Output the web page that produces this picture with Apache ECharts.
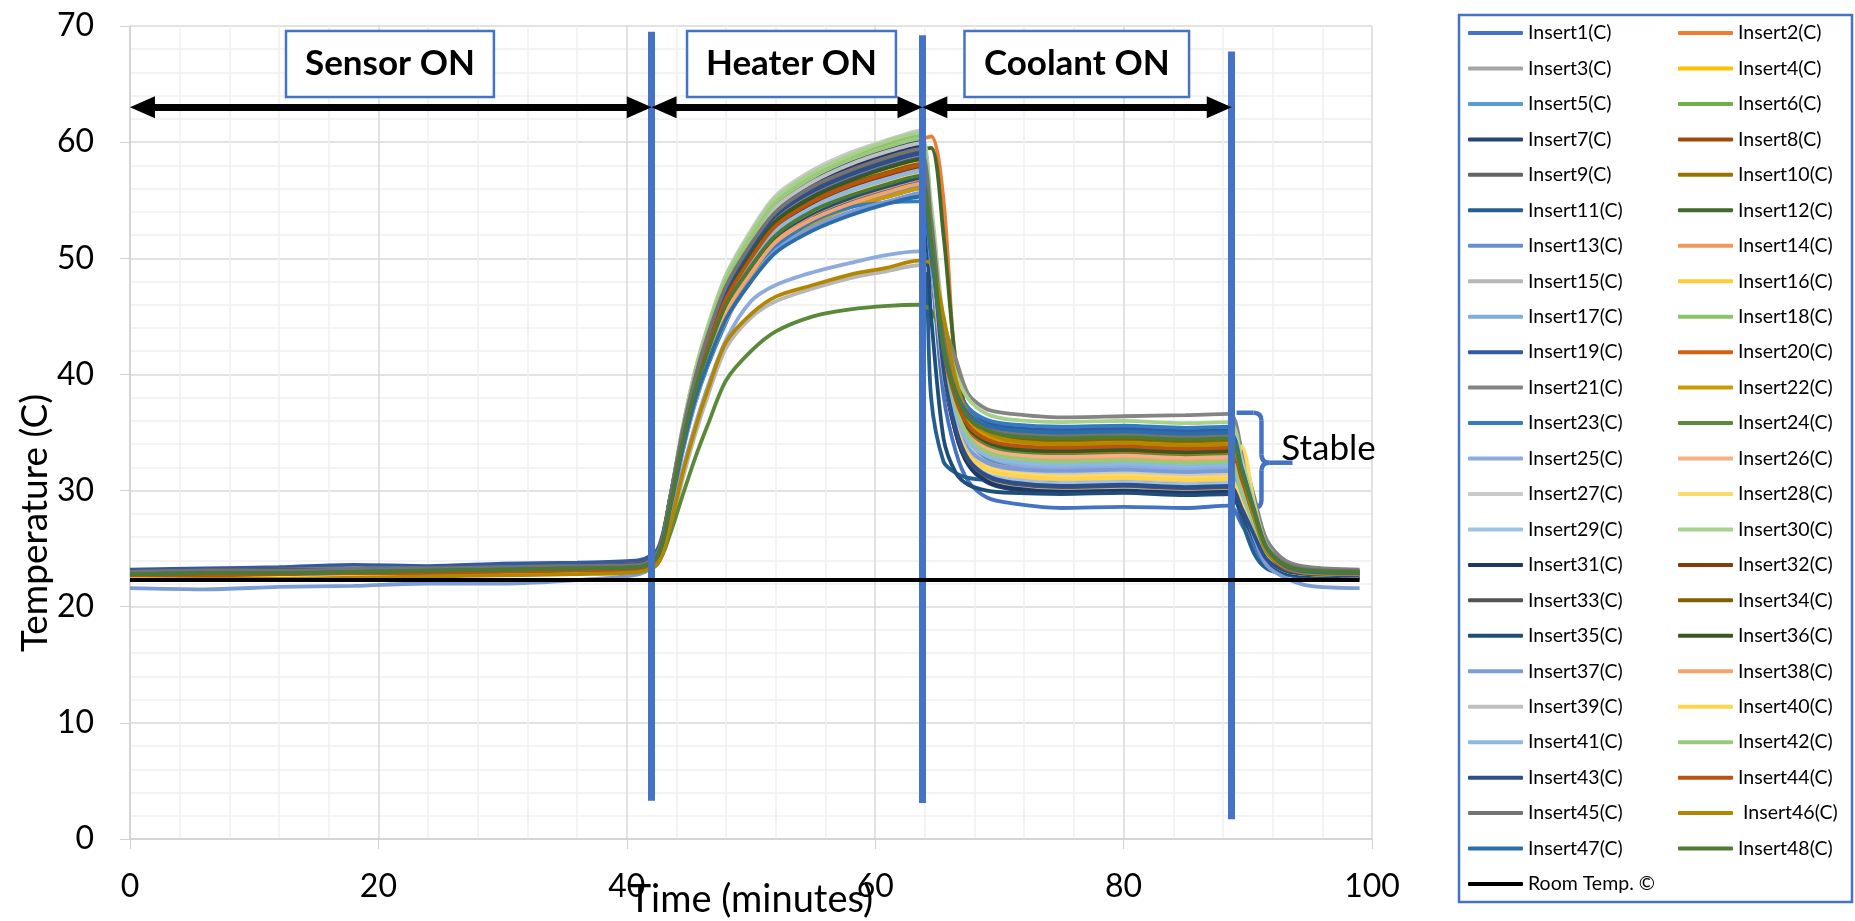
<!DOCTYPE html>
<html>
<head>
<meta charset="utf-8">
<title>Insert temperatures</title>
<script src="https://cdn.jsdelivr.net/npm/echarts@6/dist/echarts.min.js"></script>
<style>
  html, body { margin: 0; padding: 0; background: #fff; }
  #main { width: 1855px; height: 921px; }
</style>
</head>
<body>
<div id="main"></div>
<script>
// sample times (minutes)
var times = [0, 6, 12, 18, 24, 30, 36, 41, 42.5, 43.5, 44.5, 45.5, 46.5, 48, 50, 52, 55, 58, 61, 63.5,
  64.5, 65.5, 66.5, 67.5, 69, 71, 75, 80, 85, 88.5, 89.5, 90.5, 91.5, 93, 95, 99];

// temperatures, one array per insert
var insert1 = [22.8,22.9,22.8,23.0,23.0,23.1,23.2,23.3, 24.3,28.5,33.8,38.0,41.3,45.2,48.5,51.1,53.1,54.4,55.3,56.0, 49.2,38.2,33.3,30.8,29.4,28.9,28.5,28.6,28.5, 28.7,27.1,25.2,23.6,22.8,22.5,22.5];
var insert2 = [22.7,22.8,22.8,22.9,23.0,23.0,23.1,23.2, 24.3,29.2,35.1,39.9,43.7,48.1,51.8,54.8,57.1,58.5,59.6,60.2, 60.5,55.0,40.0,36.0,34.2,33.6,33.3,33.1,33.2, 33.2,30.6,27.5,24.7,23.3,22.9,22.8];
var insert3 = [22.9,22.9,23.0,23.1,23.1,23.2,23.3,23.4, 24.5,29.2,35.0,39.6,43.3,47.6,51.2,54.1,56.3,57.7,58.8,59.5, 52.6,41.5,36.5,34.0,32.6,32.1,31.8,31.9,31.7, 31.8,29.6,26.9,24.5,23.3,23.0,22.9];
var insert4 = [22.5,22.6,22.6,22.8,22.8,22.9,23.0,23.1, 24.2,28.8,34.5,39.2,42.7,47.0,50.6,53.4,55.6,57.0,58.1,58.8, 52.6,42.7,38.3,36.1,34.8,34.3,34.1,34.2,34.0, 34.1,31.3,27.9,24.8,23.4,22.9,22.8];
var insert5 = [22.8,22.9,22.9,23.0,23.1,23.2,23.3,23.4, 24.4,28.8,34.2,38.5,41.9,45.9,49.3,52.0,54.0,55.3,56.3,57.0, 51.6,43.0,39.1,37.1,36.0,35.6,35.4,35.5,35.3, 35.4,32.3,28.6,25.2,23.6,23.1,23.0];
var insert6 = [22.9,23.0,23.0,23.1,23.2,23.3,23.4,23.5, 24.6,29.4,35.2,40.0,43.7,48.1,51.8,54.7,56.9,58.4,59.5,60.2, 53.8,43.6,39.0,36.6,35.4,34.9,34.6,34.7,34.5, 34.6,31.7,28.2,25.1,23.6,23.1,23.0];
var insert7 = [22.9,23.0,23.1,23.1,23.2,23.3,23.4,23.6, 24.7,29.4,35.2,40.0,43.6,48.0,51.6,54.5,56.7,58.2,59.3,60.0, 52.7,40.4,34.9,32.2,30.7,30.1,29.8,29.9,29.7, 29.8,28.0,25.9,24.0,23.1,22.8,22.7];
var insert8 = [22.6,22.7,22.7,22.8,22.9,23.0,23.1,23.2, 24.2,28.7,34.2,38.7,42.1,46.2,49.7,52.4,54.5,55.9,56.9,57.6, 51.6,42.0,37.7,35.5,34.3,33.8,33.6,33.7,33.5, 33.6,30.9,27.7,24.7,23.3,22.9,22.8];
var insert9 = [23.0,23.1,23.1,23.2,23.3,23.4,23.5,23.6, 24.7,29.4,35.2,39.9,43.5,47.9,51.5,54.4,56.5,58.0,59.1,59.8, 52.9,41.7,36.7,34.2,32.8,32.3,32.0,32.1,31.9, 32.0,29.7,27.0,24.5,23.4,23.0,22.9];
var insert10 = [22.7,22.8,22.8,22.9,23.0,23.1,23.2,23.3, 24.4,28.9,34.5,39.1,42.6,46.8,50.3,53.1,55.2,56.6,57.7,58.4, 52.3,42.7,38.4,36.2,35.0,34.5,34.3,34.4,34.2, 34.3,31.5,28.0,25.0,23.5,23.0,22.9];
var insert11 = [22.8,22.9,22.9,23.0,23.1,23.2,23.3,23.4, 24.4,28.7,34.0,38.3,41.7,45.6,49.0,51.6,53.6,54.9,55.9,56.6, 38.0,32.5,31.5,31.1,30.9,30.8,30.8,30.9,30.7, 30.8,27.5,24.6,23.3,22.8,22.6,22.6];
var insert12 = [22.8,22.9,22.9,23.0,23.1,23.2,23.3,23.4, 24.5,29.1,34.9,39.6,43.1,47.5,51.0,53.9,56.1,57.5,58.6,59.3, 59.5,52.0,41.0,36.5,34.3,33.6,33.3,33.4,33.2, 33.3,31.1,28.0,24.8,23.4,23.0,22.9];
var insert13 = [22.7,22.8,22.8,22.9,23.0,23.1,23.2,23.3, 24.3,28.6,33.8,38.1,41.4,45.3,48.6,51.3,53.2,54.6,55.5,56.2, 50.2,40.5,36.2,34.0,32.8,32.3,32.1,32.2,32.0, 32.1,29.8,26.9,24.4,23.2,22.8,22.7];
var insert14 = [22.6,22.6,22.7,22.8,22.8,22.9,23.0,23.1, 24.1,28.5,33.9,38.3,41.6,45.7,49.0,51.7,53.8,55.1,56.1,56.8, 50.8,41.2,36.9,34.7,33.5,33.0,32.8,32.9,32.7, 32.8,30.3,27.2,24.5,23.2,22.8,22.7];
var insert15 = [22.7,22.7,22.8,22.9,22.9,23.0,23.1,23.2, 23.7,26.8,31.0,34.8,38.1,42.3,44.9,46.3,47.4,48.3,48.9,49.4, 48.5,42.0,35.5,32.5,31.0,30.5,30.2,30.3,30.1, 30.2,28.0,26.1,24.1,23.2,22.9,22.8];
var insert16 = [22.6,22.6,22.7,22.8,22.8,22.9,23.0,23.1, 24.1,28.7,34.3,38.8,42.3,46.5,50.0,52.8,54.9,56.3,57.3,58.0, 51.3,40.6,35.8,33.4,32.1,31.6,31.3,31.4,31.2, 31.3,29.2,26.6,24.2,23.1,22.8,22.7];
var insert17 = [22.8,22.9,22.9,23.0,23.1,23.2,23.3,23.4, 24.4,28.8,34.2,38.7,42.0,46.1,49.5,52.2,54.2,55.6,56.6,57.3, 51.1,41.2,36.8,34.6,33.3,32.8,32.6,32.7,32.5, 32.6,30.0,27.2,24.6,23.3,22.9,22.8];
var insert18 = [22.9,23.0,23.0,23.1,23.2,23.3,23.4,23.5, 24.6,29.4,35.4,40.2,43.9,48.4,52.1,55.0,57.3,58.7,59.9,60.6, 53.6,42.3,37.2,34.7,33.2,32.7,32.4,32.5,32.3, 32.4,30.0,27.2,24.6,23.4,23.0,22.9];
var insert19 = [23.2,23.3,23.4,23.6,23.5,23.7,23.8,24.0, 25.0,29.5,35.1,39.6,43.0,47.2,50.6,53.4,55.5,56.9,57.9,58.6, 52.8,43.4,39.2,37.1,35.9,35.4,35.2,35.3,35.1, 35.2,32.2,28.5,25.2,23.6,23.1,23.0];
var insert20 = [22.6,22.7,22.7,22.8,22.9,23.0,23.1,23.2, 24.2,28.7,34.1,38.6,42.0,46.1,49.5,52.3,54.3,55.7,56.7,57.4, 51.3,41.6,37.2,35.0,33.8,33.3,33.1,33.2,33.0, 33.1,30.5,27.4,24.7,23.3,22.9,22.8];
var insert21 = [23.0,23.1,23.2,23.3,23.3,23.4,23.5,23.7, 24.8,29.3,35.0,39.5,43.1,47.3,50.8,53.6,55.7,57.1,58.2,58.9, 52.0,44.5,41.3,38.3,37.0,36.6,36.3,36.4,36.5, 36.6,33.5,29.5,25.8,24.0,23.4,23.2];
var insert22 = [22.4,22.5,22.5,22.6,22.7,22.8,22.9,23.0, 24.0,28.3,33.6,37.9,41.2,45.1,48.4,51.1,53.0,54.4,55.3,56.0, 50.5,41.7,37.7,35.8,34.7,34.2,34.0,34.1,33.9, 34.0,31.2,27.8,24.8,23.4,22.9,22.8];
var insert23 = [22.7,22.8,22.8,22.9,23.0,23.1,23.2,23.3, 24.2,28.4,33.4,37.5,40.7,44.5,48.8,51.0,53.2,54.4,54.8,54.9, 50.1,42.3,38.8,37.1,36.1,35.7,35.5,35.6,35.4, 35.5,32.4,28.6,25.2,23.5,23.0,22.9];
var insert24 = [22.8,22.9,22.9,23.0,23.1,23.2,23.3,23.4, 23.8,26.3,29.6,32.8,35.6,39.5,42.0,43.7,45.0,45.6,45.9,46.0, 45.5,43.0,38.5,35.5,34.0,33.3,33.0,33.1,32.9, 33.0,30.5,27.4,24.7,23.4,23.0,22.9];
var insert25 = [22.6,22.7,22.7,22.8,22.9,23.0,23.1,23.2, 24.0,27.6,31.8,35.6,38.9,43.0,46.3,47.7,48.8,49.6,50.3,50.6, 49.8,44.0,37.5,34.5,33.0,32.3,31.9,32.0,31.8, 31.9,29.6,26.8,24.3,23.1,22.7,22.6];
var insert26 = [22.6,22.6,22.7,22.8,22.8,22.9,23.0,23.1, 24.1,28.3,33.4,37.6,40.9,44.7,48.0,50.6,52.5,53.8,54.8,55.4, 49.8,40.8,36.7,34.7,33.6,33.1,32.9,33.0,32.8, 32.9,30.3,27.3,24.5,23.2,22.8,22.7];
var insert27 = [22.8,22.9,22.9,23.0,23.1,23.2,23.3,23.4, 24.5,29.4,35.4,40.3,44.1,48.6,52.4,55.4,57.6,59.1,60.2,61.0, 53.6,41.8,36.5,33.9,32.4,31.8,31.5,31.6,31.4, 31.5,29.3,26.7,24.4,23.2,22.9,22.8];
var insert28 = [22.5,22.6,22.6,22.8,22.8,22.9,23.0,23.1, 24.2,28.7,34.4,38.9,42.5,46.7,50.2,53.0,55.1,56.5,57.6,58.3, 51.5,40.7,35.8,33.4,32.0,31.5,31.2,31.3,31.1, 31.2,33.8,29.0,25.0,23.2,22.8,22.7];
var insert29 = [22.7,22.8,22.8,22.9,23.0,23.1,23.2,23.3, 24.3,28.8,34.3,38.8,42.3,46.4,49.9,52.6,54.7,56.1,57.1,57.8, 51.0,40.1,35.2,32.8,31.4,30.9,30.6,30.7,30.5, 30.6,28.6,26.3,24.1,23.1,22.8,22.7];
var insert30 = [22.9,23.0,23.0,23.1,23.2,23.3,23.4,23.5, 24.6,29.5,35.4,40.3,44.0,48.5,52.2,55.2,57.4,58.9,60.1,60.8, 54.6,44.6,40.1,37.9,36.6,36.1,35.9,36.0,35.8, 35.9,32.7,28.8,25.3,23.6,23.1,23.0];
var insert31 = [22.9,23.0,23.1,23.1,23.2,23.3,23.4,23.6, 24.7,29.4,35.1,39.8,43.4,47.7,51.3,54.2,56.4,57.8,58.9,59.6, 52.2,40.3,34.9,32.3,30.8,30.2,29.9,30.0,29.8, 29.9,28.1,25.9,23.9,23.0,22.7,22.6];
var insert32 = [22.7,22.7,22.8,22.9,22.9,23.0,23.1,23.2, 24.2,28.8,34.3,38.8,42.3,46.4,49.9,52.7,54.8,56.2,57.2,57.9, 51.8,42.0,37.6,35.5,34.2,33.7,33.5,33.6,33.4, 33.5,30.8,27.6,24.7,23.3,22.9,22.8];
var insert33 = [23.0,23.1,23.2,23.2,23.3,23.4,23.5,23.7, 24.8,29.4,35.1,39.7,43.2,47.5,51.0,53.9,56.0,57.4,58.5,59.2, 52.0,40.4,35.2,32.6,31.2,30.6,30.3,30.4,30.2, 30.3,28.4,26.2,24.2,23.2,22.9,22.8];
var insert34 = [22.6,22.7,22.7,22.8,22.9,23.0,23.1,23.2, 24.2,28.8,34.4,38.9,42.4,46.6,50.1,52.9,55.0,56.4,57.4,58.1, 52.2,42.7,38.4,36.3,35.1,34.6,34.4,34.5,34.3, 34.4,31.5,28.1,25.0,23.5,23.0,22.9];
var insert35 = [22.8,22.9,23.0,23.0,23.1,23.2,23.3,23.5, 24.5,28.8,34.2,38.5,41.9,45.9,49.2,51.9,53.9,55.2,56.2,56.9, 45.0,34.5,31.5,30.5,30.0,29.8,29.7,29.8,29.6, 29.7,28.0,25.8,23.9,23.0,22.7,22.6];
var insert36 = [22.7,22.8,22.8,22.9,23.0,23.1,23.2,23.3, 24.4,28.9,34.6,39.1,42.7,46.9,50.4,53.2,55.3,56.7,57.8,58.5, 52.2,42.2,37.7,35.4,34.2,33.6,33.4,33.5,33.3, 33.4,30.8,27.6,24.7,23.3,22.9,22.8];
var insert37 = [21.6,21.5,21.7,21.8,22.0,22.0,22.3,22.8, 24.0,28.2,33.4,37.7,40.9,44.8,48.1,50.7,52.7,54.0,54.9,55.6, 49.6,40.1,35.8,33.6,32.4,31.9,31.7,31.8,31.6, 31.7,29.0,26.0,23.6,22.5,21.8,21.6];
var insert38 = [22.6,22.6,22.7,22.8,22.8,22.9,23.0,23.1, 24.1,28.4,33.8,38.1,41.4,45.4,48.7,51.4,53.4,54.7,55.7,56.4, 50.5,40.9,36.6,34.5,33.3,32.8,32.6,32.7,32.5, 32.6,30.1,27.2,24.5,23.2,22.8,22.7];
var insert39 = [22.8,22.8,22.9,23.0,23.0,23.1,23.2,23.3, 24.4,29.2,35.0,39.8,43.4,47.8,51.5,54.4,56.6,58.1,59.2,59.9, 52.7,41.1,35.8,33.2,31.8,31.2,30.9,31.0,30.8, 30.9,28.9,26.4,24.2,23.1,22.8,22.7];
var insert40 = [22.5,22.6,22.6,22.7,22.8,22.9,23.0,23.1, 24.1,28.6,34.0,38.4,41.9,45.9,49.4,52.1,54.1,55.5,56.5,57.2, 50.7,40.2,35.5,33.1,31.8,31.3,31.0,31.1,30.9, 31.0,28.9,26.4,24.2,23.1,22.8,22.7];
var insert41 = [22.7,22.8,22.8,22.9,23.0,23.1,23.2,23.3, 24.3,28.8,34.2,38.7,42.1,46.2,49.6,52.4,54.4,55.8,56.8,57.5, 51.2,41.1,36.5,34.2,33.0,32.5,32.2,32.3,32.1, 32.2,29.9,27.0,24.5,23.3,22.9,22.8];
var insert42 = [22.8,22.9,22.9,23.0,23.1,23.2,23.3,23.4, 24.5,29.3,35.2,40.0,43.7,48.1,51.8,54.8,57.0,58.5,59.6,60.3, 53.4,42.2,37.2,34.7,33.3,32.8,32.5,32.6,32.4, 32.5,30.1,27.2,24.6,23.4,23.0,22.9];
var insert43 = [22.9,23.0,23.1,23.1,23.2,23.3,23.4,23.6, 24.7,29.3,34.9,39.5,43.1,47.3,50.9,53.7,55.8,57.2,58.3,59.0, 51.9,40.4,35.3,32.7,31.3,30.7,30.4,30.5,30.3, 30.4,28.5,26.2,24.1,23.1,22.8,22.7];
var insert44 = [22.7,22.7,22.8,22.9,22.9,23.0,23.1,23.2, 24.2,28.8,34.3,38.9,42.3,46.5,50.0,52.8,54.9,56.3,57.3,58.0, 51.9,42.2,37.8,35.6,34.4,33.9,33.7,33.8,33.6, 33.7,31.0,27.7,24.8,23.3,22.9,22.8];
var insert45 = [23.0,23.1,23.1,23.2,23.3,23.4,23.5,23.6, 24.7,29.3,35.1,39.7,43.3,47.6,51.2,54.0,56.2,57.6,58.7,59.4, 53.3,43.4,39.0,36.8,35.5,35.0,34.8,34.9,34.7, 34.8,31.9,28.4,25.2,23.7,23.2,23.1];
var insert46 = [22.3,22.4,22.4,22.5,22.6,22.7,22.8,23.0, 23.7,27.0,31.5,35.3,38.6,42.8,45.2,46.7,47.7,48.6,49.2,49.8, 49.5,45.0,39.5,36.5,35.0,34.3,34.0,34.1,33.9, 34.0,31.6,27.8,24.8,23.4,22.9,22.8];
var insert47 = [22.8,22.9,22.9,23.0,23.1,23.2,23.3,23.4, 24.4,28.5,33.6,37.8,40.9,44.8,48.0,50.5,52.4,53.7,54.7,55.3, 50.2,42.1,38.5,36.6,35.6,35.2,35.0,35.1,34.9, 35.0,32.0,28.3,25.1,23.5,23.0,22.9];
var insert48 = [22.8,22.9,22.9,23.0,23.1,23.2,23.3,23.4, 24.4,28.8,34.2,38.6,41.9,46.0,49.3,52.0,54.1,55.4,56.4,57.1, 51.5,42.4,38.3,36.3,35.2,34.7,34.5,34.6,34.4, 34.5,31.6,28.2,25.1,23.6,23.1,23.0];
var roomTemp = [22.3,22.3,22.3,22.3,22.3,22.3,22.3,22.3, 22.3,22.3,22.3,22.3,22.3,22.3,22.3,22.3,22.3,22.3,22.3,22.3, 22.3,22.3,22.3,22.3,22.3,22.3,22.3,22.3,22.3, 22.3,22.3,22.3,22.3,22.3,22.3,22.3];

var insertNames = ['Insert1(C)', 'Insert2(C)', 'Insert3(C)', 'Insert4(C)', 'Insert5(C)', 'Insert6(C)',
  'Insert7(C)', 'Insert8(C)', 'Insert9(C)', 'Insert10(C)', 'Insert11(C)', 'Insert12(C)',
  'Insert13(C)', 'Insert14(C)', 'Insert15(C)', 'Insert16(C)', 'Insert17(C)', 'Insert18(C)',
  'Insert19(C)', 'Insert20(C)', 'Insert21(C)', 'Insert22(C)', 'Insert23(C)', 'Insert24(C)',
  'Insert25(C)', 'Insert26(C)', 'Insert27(C)', 'Insert28(C)', 'Insert29(C)', 'Insert30(C)',
  'Insert31(C)', 'Insert32(C)', 'Insert33(C)', 'Insert34(C)', 'Insert35(C)', 'Insert36(C)',
  'Insert37(C)', 'Insert38(C)', 'Insert39(C)', 'Insert40(C)', 'Insert41(C)', 'Insert42(C)',
  'Insert43(C)', 'Insert44(C)', 'Insert45(C)', ' Insert46(C)', 'Insert47(C)', 'Insert48(C)'];
var roomName = 'Room Temp. ©';

// annotations (data coordinates)
var phaseTimes = [42, 63.8, 88.7];
var phaseLineTop = [69.5, 69.2, 67.8];
var phaseLineBottom = [3.3, 3.1, 1.7];
var arrowStops = [0, 42, 63.8, 88.7];
var arrowY = 63;
var phaseNames = ['Sensor ON', 'Heater ON', 'Coolant ON'];
var boxLeft = [12.56, 44.85, 67.19];
var boxRight = [29.3, 61.67, 85.27];
var boxTop = 69.57, boxBottom = 63.89;
var braceX = [89.1, 91.1, 93.6];
var braceY = [36.7, 32.4, 28.5];
var stableAt = [92.7, 33.6];

var inserts = [insert1, insert2, insert3, insert4, insert5, insert6, insert7, insert8, insert9, insert10,
  insert11, insert12, insert13, insert14, insert15, insert16, insert17, insert18, insert19, insert20,
  insert21, insert22, insert23, insert24, insert25, insert26, insert27, insert28, insert29, insert30,
  insert31, insert32, insert33, insert34, insert35, insert36, insert37, insert38, insert39, insert40,
  insert41, insert42, insert43, insert44, insert45, insert46, insert47, insert48];

// Office palette: 6 accents, then luminance variations
var accents = ['#4472C4', '#ED7D31', '#A5A5A5', '#FFC000', '#5B9BD5', '#70AD47'];
var shades = [[1, 0], [0.6, 0], [0.8, 0.2], [0.8, 0], [0.6, 0.4], [0.5, 0], [0.7, 0.3], [0.7, 0]];

function shade(hex, mod, off) {
  var r = parseInt(hex.substr(1, 2), 16) / 255;
  var g = parseInt(hex.substr(3, 2), 16) / 255;
  var b = parseInt(hex.substr(5, 2), 16) / 255;
  var max = Math.max(r, g, b), min = Math.min(r, g, b);
  var h = 0, s = 0, l = (max + min) / 2;
  if (max !== min) {
    var d = max - min;
    s = l > 0.5 ? d / (2 - max - min) : d / (max + min);
    if (max === r) h = (g - b) / d + (g < b ? 6 : 0);
    else if (max === g) h = (b - r) / d + 2;
    else h = (r - g) / d + 4;
    h /= 6;
  }
  l = Math.min(1, l * mod + off);
  function hue(p, q, t) {
    if (t < 0) t += 1;
    if (t > 1) t -= 1;
    if (t < 1 / 6) return p + (q - p) * 6 * t;
    if (t < 1 / 2) return q;
    if (t < 2 / 3) return p + (q - p) * (2 / 3 - t) * 6;
    return p;
  }
  var q = l < 0.5 ? l * (1 + s) : l + s - l * s;
  var p = 2 * l - q;
  var out = [hue(p, q, h + 1 / 3), hue(p, q, h), hue(p, q, h - 1 / 3)];
  return '#' + out.map(function (v) {
    var n = Math.round(v * 255).toString(16);
    return n.length < 2 ? '0' + n : n;
  }).join('');
}

var colors = inserts.map(function (v, i) {
  var sh = shades[Math.floor(i / 6)];
  return shade(accents[i % 6], sh[0], sh[1]);
});

function pairs(vals) {
  return times.map(function (t, k) { return [t, vals[k]]; });
}

var series = inserts.map(function (vals, i) {
  return {
    name: insertNames[i],
    type: 'line',
    symbol: 'none',
    smooth: 0.3,
    lineStyle: { width: 3.8, color: colors[i] },
    itemStyle: { color: colors[i] },
    data: pairs(vals)
  };
});

var markLines = phaseTimes.map(function (t, i) {
  return [{ coord: [t, phaseLineTop[i]] }, { coord: [t, phaseLineBottom[i]] }];
});
var headInset = 1.0;
for (var a = 0; a < 3; a++) {
  markLines.push([
    { coord: [arrowStops[a] + headInset, arrowY], symbol: 'triangle', symbolSize: [22, 25],
      lineStyle: { color: '#000', width: 7 } },
    { coord: [arrowStops[a + 1] - headInset, arrowY], symbol: 'triangle', symbolSize: [22, 25] }
  ]);
}

var areas = phaseNames.map(function (n, i) {
  return [{ name: n, coord: [boxLeft[i], boxTop] }, { coord: [boxRight[i], boxBottom] }];
});

series.push({
  name: roomName,
  type: 'line',
  symbol: 'none',
  smooth: 0.3,
  z: 5,
  lineStyle: { width: 4, color: '#000' },
  itemStyle: { color: '#000' },
  data: pairs(roomTemp),
  markLine: {
    silent: true,
    symbol: 'none',
    label: { show: false },
    lineStyle: { color: '#4472C4', width: 7, type: 'solid' },
    emphasis: { disabled: true },
    data: markLines
  },
  markArea: {
    silent: true,
    itemStyle: { color: '#fff', borderColor: '#4472C4', borderWidth: 2.5, opacity: 1 },
    label: { show: true, position: 'inside', fontSize: 35, fontWeight: 'bold', color: '#000', fontFamily: 'Lato' },
    emphasis: { disabled: true },
    data: areas
  }
});

var leftCol = insertNames.filter(function (n, i) { return i % 2 === 0; }).concat([roomName]);
var rightCol = insertNames.filter(function (n, i) { return i % 2 === 1; });

var legendBase = {
  orient: 'vertical',
  top: 21,
  padding: 0,
  icon: 'roundRect',
  itemWidth: 55,
  itemHeight: 4,
  itemGap: 11.46,
  selectedMode: false,
  textStyle: { fontSize: 19.5, lineHeight: 24, color: '#000', fontFamily: 'Lato' }
};

var chart = echarts.init(document.getElementById('main'));
var option = {
  animation: false,
  backgroundColor: '#fff',
  textStyle: { fontFamily: 'Lato' },
  grid: { left: 130, right: 483, top: 26, bottom: 82, outerBoundsMode: 'none', containLabel: false },
  legend: [
    Object.assign({}, legendBase, { left: 1468, data: leftCol }),
    Object.assign({}, legendBase, { left: 1678, data: rightCol })
  ],
  xAxis: {
    type: 'value',
    min: 0, max: 100, interval: 20,
    name: 'Time (minutes)',
    nameLocation: 'middle',
    nameGap: 42,
    nameMoveOverlap: false,
    nameTextStyle: { fontSize: 38, color: '#000' },
    axisLine: { lineStyle: { color: '#d0d0d0', width: 1.5 } },
    axisTick: { show: true, length: 10, lineStyle: { color: '#d0d0d0' } },
    axisLabel: { fontSize: 32, color: '#000', margin: 32 },
    splitLine: { show: true, lineStyle: { color: '#d9d9d9', width: 1.5 } },
    minorTick: { show: false, splitNumber: 5 },
    minorSplitLine: { show: true, lineStyle: { color: '#efefef', width: 1.5 } }
  },
  yAxis: {
    type: 'value',
    min: 0, max: 70, interval: 10,
    name: 'Temperature (C)',
    nameLocation: 'middle',
    nameGap: 76,
    nameMoveOverlap: false,
    nameTextStyle: { fontSize: 37, color: '#000', padding: [0, 181, 0, 0] },
    axisLine: { show: true, lineStyle: { color: '#d0d0d0', width: 1.5 } },
    axisTick: { show: true, length: 10, lineStyle: { color: '#d0d0d0' } },
    axisLabel: { fontSize: 32, color: '#000', margin: 36 },
    splitLine: { show: true, lineStyle: { color: '#d9d9d9', width: 1.5 } },
    minorTick: { show: false, splitNumber: 5 },
    minorSplitLine: { show: true, lineStyle: { color: '#efefef', width: 1.5 } }
  },
  series: series
};
chart.setOption(option);

// brace, "Stable" note and legend frame
function px(x, y) { return chart.convertToPixel({ gridIndex: 0 }, [x, y]); }
var x0 = px(braceX[0], braceY[0])[0], x1 = px(braceX[1], braceY[0])[0], x2 = px(braceX[2], braceY[0])[0];
var yT = px(braceX[0], braceY[0])[1], yM = px(braceX[0], braceY[1])[1], yB = px(braceX[0], braceY[2])[1];
var r = 8;
var braceStyle = { stroke: '#4472C4', lineWidth: 4.5, fill: null };
function seg(ax, ay, bx, by) {
  return { type: 'line', silent: true, shape: { x1: ax, y1: ay, x2: bx, y2: by }, style: braceStyle };
}
function bend(ax, ay, cx, cy, bx, by) {
  return { type: 'bezierCurve', silent: true, shape: { x1: ax, y1: ay, x2: bx, y2: by, cpx1: cx, cpy1: cy }, style: braceStyle };
}
var sp = px(stableAt[0], stableAt[1]);

chart.setOption({
  graphic: [
    {
      id: 'legendFrame', type: 'rect', silent: true, z: 0,
      shape: { x: 1459, y: 15, width: 393, height: 887 },
      style: { fill: null, stroke: '#4472C4', lineWidth: 2.5 }
    },
    {
      id: 'brace', type: 'group', silent: true, z: 10,
      children: [
        seg(x0, yT, x1 - r, yT),
        bend(x1 - r, yT, x1, yT, x1, yT + r),
        seg(x1, yT + r, x1, yM - r),
        bend(x1, yM - r, x1, yM, x1 + r, yM),
        seg(x1 + r, yM, x2, yM),
        bend(x1, yM + r, x1, yM, x1 + r, yM),
        seg(x1, yM + r, x1, yB - r),
        bend(x1, yB - r, x1, yB, x1 - r, yB),
        seg(x1 - r, yB, x0, yB)
      ]
    },
    {
      id: 'stable', type: 'text', silent: true, z: 10,
      x: sp[0], y: sp[1],
      style: { text: 'Stable', font: '35px Lato', fill: '#000', verticalAlign: 'middle', align: 'left' }
    }
  ]
});
</script>
</body>
</html>
